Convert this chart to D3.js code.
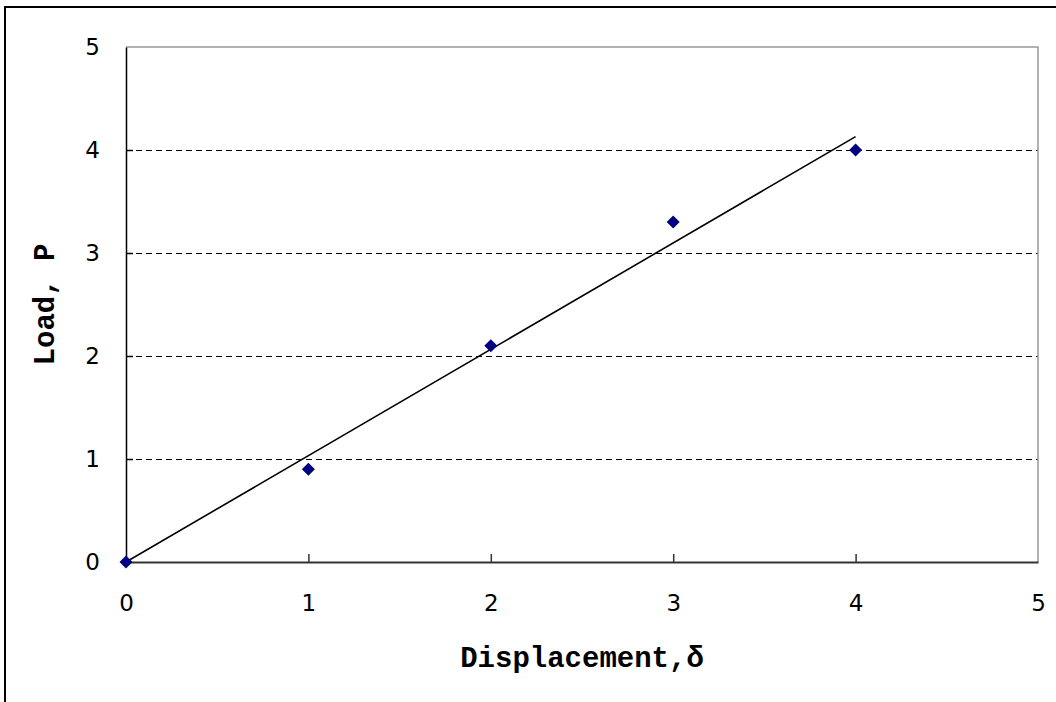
<!DOCTYPE html>
<html lang="en">
<head>
    <meta charset="UTF-8">
    <title>Load vs Displacement</title>
    <script src="https://cdn.jsdelivr.net/npm/d3@7/dist/d3.min.js"></script>
    <style>
        body { margin: 0; background: #fff; }
        svg { display: block; }
        .tick text { font-family: "DejaVu Sans", sans-serif; font-size: 23px; fill: #000; }
        .axis-title { font-family: "Courier New", "Liberation Mono", monospace; font-size: 29px; font-weight: bold; }
        .grid line { shape-rendering: crispEdges; }
    </style>
</head>
<body>
<svg width="1056" height="702"></svg>
<script>
    // measured points
    var displacement = [0, 1, 2, 3, 4];
    var load = [0, 0.9, 2.1, 3.3, 4.0];
    // linear trend line (through origin), endpoints
    var trendX = [0, 4];
    var trendY = [0, 4.13];
    var xTicks = [0, 1, 2, 3, 4, 5];
    var yTicks = [0, 1, 2, 3, 4, 5];
    var gridTicks = [1, 2, 3, 4];

    var svg = d3.select("svg");

    // outer frame (only top/left visible in the picture)
    svg.append("rect")
        .attr("x", 5).attr("y", 7)
        .attr("width", 1200).attr("height", 900)
        .attr("fill", "none")
        .attr("stroke", "#000")
        .attr("stroke-width", 2);

    var plotLeft = 126, plotRight = 1038, plotTop = 47, plotBottom = 562;

    var x = d3.scaleLinear().domain([0, 5]).range([plotLeft, plotRight]);
    var y = d3.scaleLinear().domain([0, 5]).range([plotBottom, plotTop]);

    // dashed gridlines
    svg.append("g")
        .attr("class", "grid")
        .selectAll("line")
        .data(gridTicks)
        .enter().append("line")
        .attr("x1", plotLeft).attr("x2", plotRight)
        .attr("y1", function(d) { return y(d); })
        .attr("y2", function(d) { return y(d); })
        .attr("stroke", "#000")
        .attr("stroke-width", 1)
        .attr("stroke-dasharray", "6,4");

    // top + right border of plot area (grey)
    svg.append("path")
        .attr("d", "M" + plotLeft + "," + plotTop + "H" + plotRight + "V" + plotBottom)
        .attr("fill", "none")
        .attr("stroke", "#999")
        .attr("stroke-width", 1.5);

    // x axis, ticks pointing inward
    var xAxis = svg.append("g")
        .attr("transform", "translate(0," + plotBottom + ")")
        .call(d3.axisBottom(x).tickValues(xTicks).tickFormat(d3.format("d"))
            .tickSize(-8).tickSizeOuter(0).tickPadding(33));
    xAxis.select(".domain").attr("stroke", "#333").attr("stroke-width", 2);
    xAxis.selectAll(".tick line").attr("stroke", "#333").attr("stroke-width", 1.5);
    xAxis.selectAll(".tick").filter(function(d) { return d === 0 || d === 5; }).select("line").remove();

    // y axis, ticks pointing inward
    var yAxis = svg.append("g")
        .attr("transform", "translate(" + plotLeft + ",0)")
        .call(d3.axisLeft(y).tickValues(yTicks).tickFormat(d3.format("d"))
            .tickSize(-7).tickSizeOuter(0).tickPadding(26));
    yAxis.select(".domain").attr("stroke", "#000").attr("stroke-width", 1.5);
    yAxis.selectAll(".tick line").attr("stroke", "#000").attr("stroke-width", 1.5);
    yAxis.selectAll(".tick").filter(function(d) { return d === 0 || d === 5; }).select("line").remove();

    // trend line
    var trend = trendX.map(function(d, i) { return [d, trendY[i]]; });
    svg.append("path")
        .datum(trend)
        .attr("fill", "none")
        .attr("stroke", "#000")
        .attr("stroke-width", 1.6)
        .attr("d", d3.line()
            .x(function(d) { return x(d[0]); })
            .y(function(d) { return y(d[1]); }));

    // data markers (diamonds)
    svg.append("g")
        .selectAll("path")
        .data(displacement.map(function(d, i) { return [d, load[i]]; }))
        .enter().append("path")
        .attr("transform", function(d) { return "translate(" + x(d[0]) + "," + y(d[1]) + ")"; })
        .attr("d", "M0,-6.5L6.5,0L0,6.5L-6.5,0Z")
        .attr("fill", "#000080");

    // axis titles
    svg.append("text")
        .attr("class", "axis-title")
        .attr("x", (plotLeft + plotRight) / 2)
        .attr("y", 667)
        .attr("text-anchor", "middle")
        .text("Displacement,δ");

    svg.append("text")
        .attr("class", "axis-title")
        .attr("transform", "translate(54," + (plotTop + plotBottom) / 2 + ") rotate(-90)")
        .attr("text-anchor", "middle")
        .text("Load, P");
</script>
</body>
</html>
